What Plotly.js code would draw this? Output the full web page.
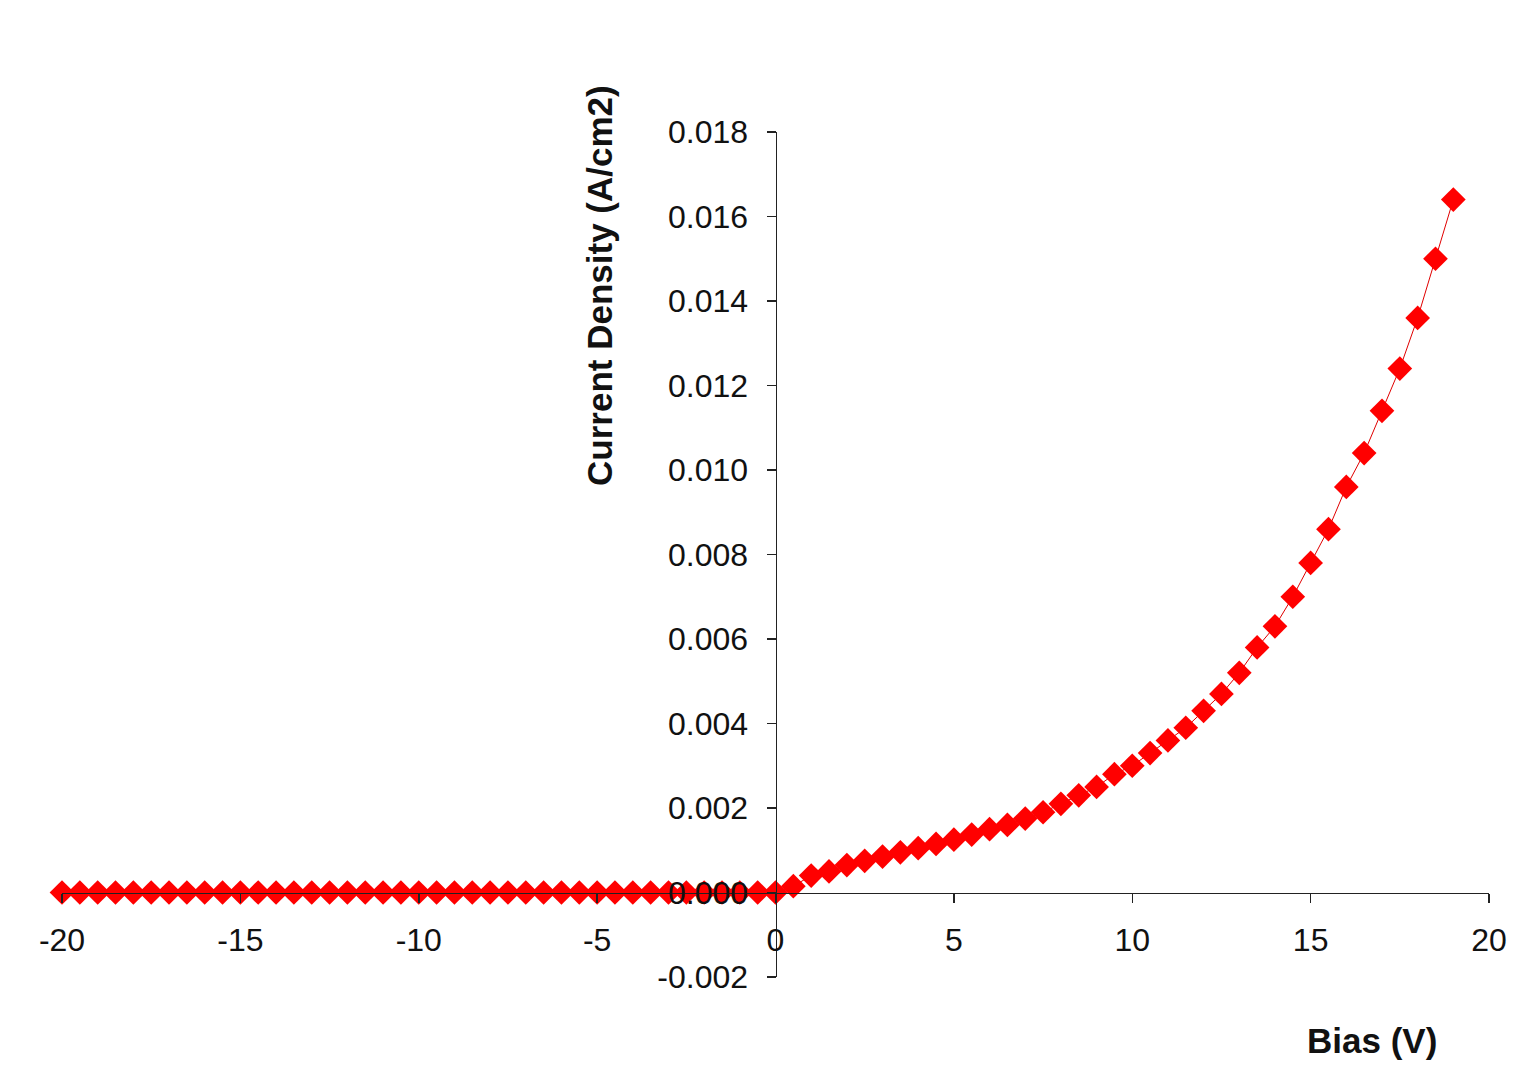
<!DOCTYPE html>
<html>
<head>
<meta charset="utf-8">
<script src="https://cdn.plot.ly/plotly-3.0.1.min.js"></script>
<style>html,body{margin:0;padding:0;background:#fff;}#chart{width:1513px;height:1074px;}</style>
</head>
<body>
<div id="chart"></div>
<script>
// Bias (V), every 0.5 V from -20 to 19
const biasNeg = [-20,-19.5,-19,-18.5,-18,-17.5,-17,-16.5,-16,-15.5,-15,-14.5,-14,-13.5,-13,-12.5,-12,-11.5,-11,-10.5,-10,-9.5,-9,-8.5,-8,-7.5,-7,-6.5,-6,-5.5,-5,-4.5,-4,-3.5,-3,-2.5,-2,-1.5,-1,-0.5];
const currentNeg = [0,0,0,0,0,0,0,0,0,0,0,0,0,0,0,0,0,0,0,0,0,0,0,0,0,0,0,0,0,0,0,0,0,0,0,0,0,0,0,0];
const biasPos = [0,0.5,1,1.5,2,2.5,3,3.5,4,4.5,5,5.5,6,6.5,7,7.5,8,8.5,9,9.5,10,10.5,11,11.5,12,12.5,13,13.5,14,14.5,15,15.5,16,16.5,17,17.5,18,18.5,19];
const currentPos = [0,0.00015,0.0004,0.0005,0.00065,0.00075,0.00085,0.00095,0.00105,0.00115,0.00125,0.00137,0.0015,0.0016,0.00175,0.0019,0.0021,0.0023,0.0025,0.0028,0.003,0.0033,0.0036,0.0039,0.0043,0.0047,0.0052,0.0058,0.0063,0.007,0.0078,0.0086,0.0096,0.0104,0.0114,0.0124,0.0136,0.015,0.0164];
const xTicks = [-20,-15,-10,-5,0,5,10,15,20];
const yTicks = [-0.002,0,0.002,0.004,0.006,0.008,0.010,0.012,0.014,0.016,0.018];
const xTitle = 'Bias (V)';
const yTitle = 'Current Density (A/cm2)';

const bias = biasNeg.concat(biasPos);
const current = currentNeg.concat(currentPos);

const trace = {
  x: bias, y: current, type: 'scatter', mode: 'lines+markers',
  line: {color: '#e00000', width: 1},
  marker: {symbol: 'diamond', size: 19, color: '#ff0000', line: {width: 0}},
  cliponaxis: false, hoverinfo: 'x+y'
};

const tickFont = {family: 'Liberation Sans, Arial, sans-serif', size: 32, color: '#111'};
const titleFont = {family: 'Liberation Sans, Arial, sans-serif', size: 35, color: '#111', weight: 'bold'};

const layout = {
  width: 1513, height: 1074,
  paper_bgcolor: '#fff', plot_bgcolor: '#fff',
  margin: {l: 62, r: 24, t: 132, b: 97},
  showlegend: false,
  xaxis: {
    range: [-20, 20], tickvals: xTicks, ticktext: xTicks.map(String),
    showgrid: false, zeroline: false, showline: true, linecolor: '#222', linewidth: 1.5,
    ticks: 'outside', ticklen: 9, tickcolor: '#222', tickwidth: 1.5,
    tickfont: tickFont, anchor: 'free', position: 0.1, side: 'bottom',
    ticklabelstandoff: 10
  },
  yaxis: {
    range: [-0.002, 0.018], tickvals: yTicks, ticktext: yTicks.map(v => v.toFixed(3)),
    showgrid: false, zeroline: false, showline: true, linecolor: '#222', linewidth: 1.5,
    ticks: 'outside', ticklen: 9, tickcolor: '#222', tickwidth: 1.5,
    tickfont: tickFont, anchor: 'free', position: 0.5, side: 'left',
    ticklabelstandoff: 12
  },
  annotations: [
    {text: '<b>' + xTitle + '</b>', xref: 'paper', yref: 'paper', x: 0.918, y: -0.0757,
     xanchor: 'center', yanchor: 'middle', showarrow: false, font: titleFont},
    {text: '<b>' + yTitle + '</b>', xref: 'paper', yref: 'paper', x: 0.377, y: 0.819,
     xanchor: 'center', yanchor: 'middle', showarrow: false, textangle: -90, font: titleFont}
  ]
};

Plotly.newPlot('chart', [trace], layout, {displayModeBar: false, staticPlot: true});
</script>
</body>
</html>
